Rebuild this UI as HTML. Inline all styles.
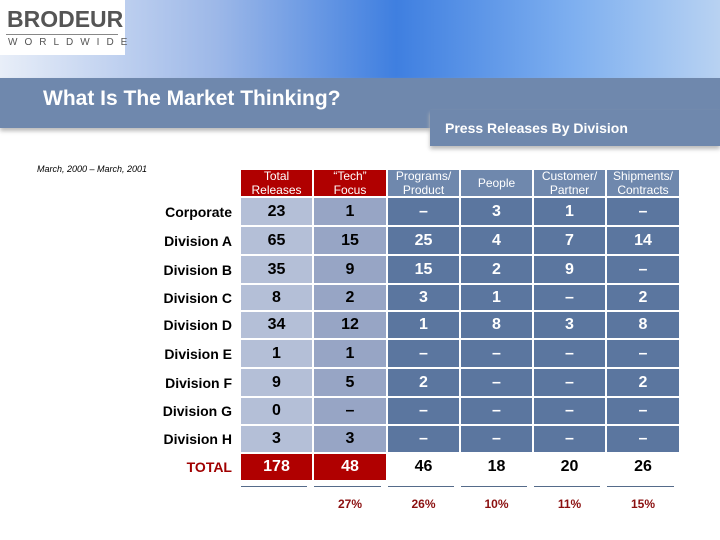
<!DOCTYPE html>
<html><head><meta charset="utf-8"><style>
body{margin:0;width:720px;height:540px;background:#fff;position:relative;overflow:hidden;font-family:"Liberation Sans",Arial,sans-serif}
div{position:absolute;box-sizing:border-box}
.c{display:flex;align-items:center;justify-content:center;font-weight:bold}
</style></head><body>
<div style="left:0;top:0;width:720px;height:80px;background:linear-gradient(90deg,#e8eef8 0%,#9db8e8 30%,#3f7fe0 55%,#7fb0f0 80%,#b8d2f2 100%)"></div>
<div style="left:0;top:0;width:125px;height:55px;background:#fff">
 <div style="left:7px;top:6px;font-size:23px;font-weight:bold;color:#555">BRODEUR</div>
 <div style="left:6px;top:34px;width:112px;border-top:1px solid #888"></div>
 <div style="left:8px;top:37px;font-size:10px;color:#555;letter-spacing:7px">WORLDWIDE</div>
</div>
<div style="left:0;top:78px;width:720px;height:50px;background:#6f88ad;box-shadow:0 3px 4px #bbb"></div>
<div style="left:430px;top:110px;width:290px;height:36px;background:#6f88ad;box-shadow:0 3px 4px #bbb"></div>
<div style="left:43px;top:87px;font-size:21px;font-weight:bold;color:#fff">What Is The Market Thinking?</div>
<div style="left:445px;top:120px;font-size:14px;font-weight:bold;color:#fff">Press Releases By Division</div>
<div style="left:37px;top:164px;font-size:9px;font-style:italic">March, 2000 – March, 2001</div>
<script>
const columns=["Total<br>Releases","“Tech”<br>Focus","Programs/<br>Product","People","Customer/<br>Partner","Shipments/<br>Contracts"];
const rows=["Corporate","Division A","Division B","Division C","Division D","Division E","Division F","Division G","Division H"];
const values=[["23","1","–","3","1","–"],["65","15","25","4","7","14"],["35","9","15","2","9","–"],["8","2","3","1","–","2"],["34","12","1","8","3","8"],["1","1","–","–","–","–"],["9","5","2","–","–","2"],["0","–","–","–","–","–"],["3","3","–","–","–","–"]];
const totals=["178","48","46","18","20","26"];
const pcts=["","27%","26%","10%","11%","15%"];
const colX=[240,313,387,460,533,606,680];
const rowY=[197,226,255,284,311,339,368,397,425,453];
const bg=["#b4bfd7","#97a5c5","#5b769f","#5b769f","#5b769f","#5b769f"];
const fg=["#000","#000","#fff","#fff","#fff","#fff"];
function mk(name,l,t,w,h,css,html){const d=document.createElement('div');d.className='c';


d.style.cssText=`left:${l}px;top:${t}px;width:${w}px;height:${h}px;`+css;d.innerHTML=html;document.body.appendChild(d);return d;}
columns.forEach((c,i)=>{mk('column-header',colX[i],169,colX[i+1]-colX[i],28,`background:${i<2?'#b00000':'#6f88ad'};color:#fff;font-size:12px;font-weight:normal;text-align:center;line-height:14px;border:1px solid #fff`,c);});
rows.forEach((r,j)=>{const y=rowY[j],h=rowY[j+1]-y;
 mk('row-label',132,y,100,h,'justify-content:flex-end;font-size:14px',r);
 values[j].forEach((v,i)=>{mk('cell',colX[i],y,colX[i+1]-colX[i],h,`background:${bg[i]};color:${fg[i]};font-size:16px;border:1px solid #fff`,v);});
});
mk('total-label',132,453,100,28,'justify-content:flex-end;color:#a00000;font-size:14px','TOTAL');
totals.forEach((v,i)=>{mk('total-cell',colX[i],453,colX[i+1]-colX[i],28,`${i<2?'background:#b00000;color:#fff;':'color:#000;'}font-size:16px;border:1px solid #fff`,v);
 mk('total-underline',colX[i]+1,486,colX[i+1]-colX[i]-7,1,'background:#556b8a','');
 if(pcts[i])mk('percent-label',colX[i],496,colX[i+1]-colX[i],16,'color:#8b1010;font-size:12px',pcts[i]);});
</script>
</body></html>
